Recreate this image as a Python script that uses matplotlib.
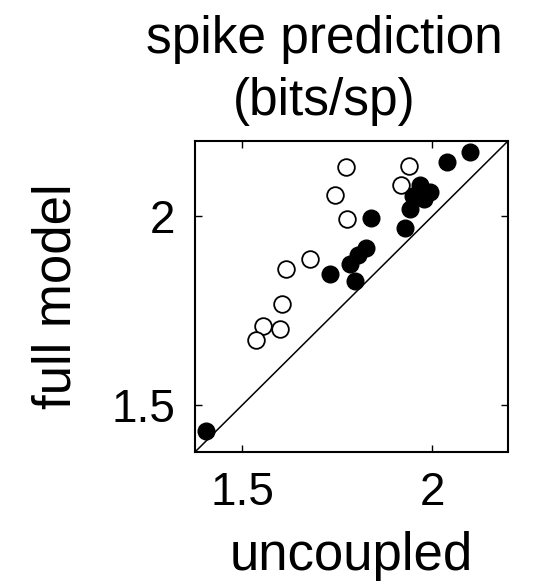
import numpy as np
import matplotlib.pyplot as plt

plt.rcParams['font.family'] = ['Liberation Sans', 'DejaVu Sans']

# open circles
open_x = [1.773, 1.940, 1.917, 1.745, 1.776, 1.677, 1.616, 1.605, 1.553, 1.599, 1.536]
open_y = [2.131, 2.133, 2.082, 2.056, 1.994, 1.886, 1.860, 1.768, 1.708, 1.702, 1.673]

# filled circles
filled_x = [2.101, 2.040, 1.840, 1.968, 1.995, 1.950, 1.979, 1.942, 1.929,
            1.783, 1.804, 1.825, 1.730, 1.796, 1.404]
filled_y = [2.170, 2.144, 1.996, 2.082, 2.066, 2.053, 2.045, 2.019, 1.968,
            1.873, 1.897, 1.915, 1.847, 1.828, 1.432]

lims = [1.375, 2.2]
ticks = [1.5, 2]
tick_labels = ['1.5', '2']

fig = plt.figure(figsize=(5.56, 5.87), dpi=100)
ax = fig.add_axes([195/556, 135/587, 313/556, 311/587])

ax.plot(lims, lims, color='black', linewidth=1.1, zorder=1)
ax.plot(open_x, open_y, 'o', markersize=12, markerfacecolor='white',
        markeredgecolor='black', markeredgewidth=1.3, zorder=2)
ax.plot(filled_x, filled_y, 'o', markersize=12, color='black', zorder=3)

ax.set_xlim(lims)
ax.set_ylim(lims)
ax.set_xticks(ticks)
ax.set_yticks(ticks)
ax.set_xticklabels(tick_labels)
ax.set_yticklabels(tick_labels)
ax.tick_params(direction='in', length=5, width=1, top=True, right=True,
               labelsize=33, pad=14)
for s in ax.spines.values():
    s.set_linewidth(1.5)

ax.set_xlabel('uncoupled', fontsize=38, labelpad=11)
ax.set_ylabel('full model', fontsize=38, labelpad=22)
fig.text(324/556, 1 - 126/587, 'spike prediction\n(bits/sp)', fontsize=37,
         ha='center', va='bottom', linespacing=1.35)

fig.savefig('out.png', dpi=100)
